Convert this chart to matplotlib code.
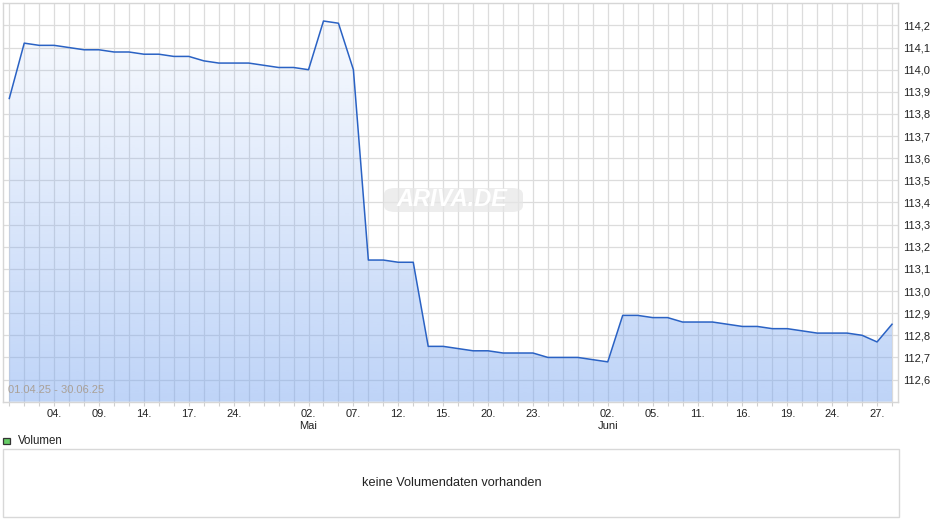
import numpy as np
import matplotlib
matplotlib.use("Agg")
import matplotlib.pyplot as plt
from matplotlib.patches import Rectangle, FancyBboxPatch, Polygon

plt.rcParams['font.family'] = ['Liberation Sans', 'DejaVu Sans']

# closing prices, one per trading day 01.04.25 - 30.06.25
prices = [113.87, 114.12, 114.11, 114.11, 114.10, 114.09, 114.09, 114.08, 114.08, 114.07,
          114.07, 114.06, 114.06, 114.04, 114.03, 114.03, 114.03, 114.02, 114.01, 114.01,
          114.00, 114.22, 114.21, 114.00, 113.14, 113.14, 113.13, 113.13, 112.75, 112.75,
          112.74, 112.73, 112.73, 112.72, 112.72, 112.72, 112.70, 112.70, 112.70, 112.69,
          112.68, 112.89, 112.89, 112.88, 112.88, 112.86, 112.86, 112.86, 112.85, 112.84,
          112.84, 112.83, 112.83, 112.82, 112.81, 112.81, 112.81, 112.80, 112.77, 112.85]

# labelled trading days (index -> label)
tick_idx = [3, 6, 9, 12, 15, 20, 23, 26, 29, 32, 35, 40, 43, 46, 49, 52, 55, 58]
tick_txt = ["04.", "09.", "14.", "17.", "24.", "02.\nMai", "07.", "12.", "15.", "20.",
            "23.", "02.\nJuni", "05.", "11.", "16.", "19.", "24.", "27."]

y_ticks = [112.6, 112.7, 112.8, 112.9, 113.0, 113.1, 113.2, 113.3, 113.4,
           113.5, 113.6, 113.7, 113.8, 113.9, 114.0, 114.1, 114.2]

W, H = 940, 526
fig = plt.figure(figsize=(W / 100, H / 100), dpi=100)
ax = fig.add_axes([3 / W, (H - 401.7) / H, 895 / W, 398.4 / H])

x = np.arange(len(prices))
xmin, xmax = -0.42, 59.4
ymin, ymax = 112.5, 114.3
ax.set_xlim(xmin, xmax)
ax.set_ylim(ymin, ymax)

# gradient fill under the line
n = 256
alpha = np.linspace(0.48, 0.03, n)
grad = np.zeros((n, 1, 4))
grad[:, 0, 0] = 120 / 255
grad[:, 0, 1] = 165 / 255
grad[:, 0, 2] = 240 / 255
grad[:, 0, 3] = alpha
img = ax.imshow(grad, extent=[xmin, xmax, ymin, ymax], origin='lower',
                aspect='auto', zorder=2, interpolation='bilinear')
verts = [(x[0], ymin)] + list(zip(x, prices)) + [(x[-1], ymin)]
poly = Polygon(verts, closed=True, facecolor='none', edgecolor='none')
ax.add_patch(poly)
img.set_clip_path(poly)

ax.plot(x, prices, color='#2a62c4', lw=1.1, zorder=3)

# grid
ax.set_axisbelow(True)
ax.set_xticks(x)
labels = [""] * len(x)
for i, t in zip(tick_idx, tick_txt):
    labels[i] = t
ax.set_xticklabels(labels, fontsize=8, color='#222222', linespacing=1.35)
ax.set_yticks(y_ticks)
ax.set_yticklabels([f"{v:.1f}".replace(".", ",") for v in y_ticks],
                   fontsize=8, color='#222222')
ax.yaxis.tick_right()
ax.tick_params(axis='y', length=0, pad=3.5)
ax.tick_params(axis='x', length=3, width=0.8, color='#d0d0d0', pad=2)
ax.grid(True, color='#dcdcdc', lw=0.9)
for s in ax.spines.values():
    s.set_color('#d6d6d6')
    s.set_linewidth(1)

ax.text(0.006, 0.018, "01.04.25 - 30.06.25", transform=ax.transAxes,
        fontsize=8, color='#aaa096', ha='left', va='bottom', zorder=4)

# watermark
badge = FancyBboxPatch((384 / W, 1 - 212 / H), 139 / W, 24 / H,
                       boxstyle="round,pad=0,rounding_size=0.012",
                       transform=fig.transFigure, facecolor='#e6e6e6',
                       edgecolor='none', alpha=0.7, zorder=5)
fig.patches.append(badge)
fig.text(452 / W, 1 - 200 / H, "ARIVA.DE", fontsize=17, fontweight='bold',
         fontstyle='italic', color='white', ha='center', va='center', zorder=6)

# volume panel
fig.patches.append(Rectangle((3.3 / W, 1 - 444.3 / H), 6.6 / W, 6.6 / H,
                             transform=fig.transFigure, facecolor='#66cc66',
                             edgecolor='#333333', lw=0.9))
fig.text(18 / W, 1 - 440.5 / H, "Volumen", fontsize=8.3, color='#222222',
         ha='left', va='center')
fig.patches.append(Rectangle((2.5 / W, 1 - 517.3 / H), 896 / W, 68 / H,
                             transform=fig.transFigure, facecolor='white',
                             edgecolor='#d8d8d8', lw=1))
fig.text(452 / W, 1 - 483.5 / H, "keine Volumendaten vorhanden", fontsize=9.2,
         color='#222222', ha='center', va='center')

fig.savefig("out.png", dpi=100)
